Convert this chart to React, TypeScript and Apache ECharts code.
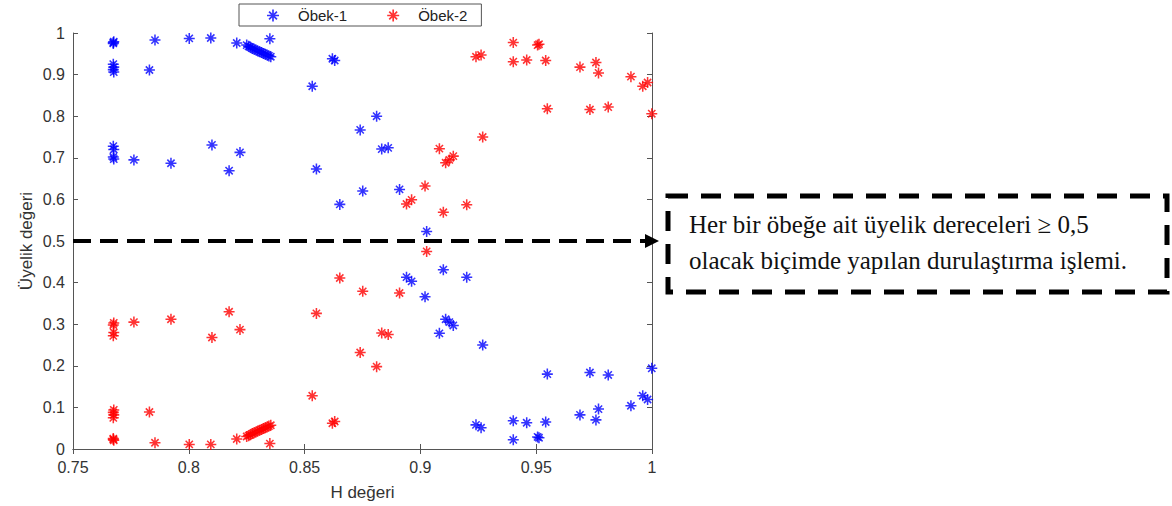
import React, { useEffect, useRef } from "react";
import * as echarts from "echarts";

// Öbek-1 (blue) points: [H değeri, üyelik değeri]
const obek1: [number, number][] = [
  [0.7674, 0.977], [0.7674, 0.975], [0.7676, 0.979],
  [0.7674, 0.925], [0.7676, 0.918], [0.7674, 0.912], [0.7676, 0.906],
  [0.7674, 0.728], [0.7676, 0.720], [0.7674, 0.702], [0.7676, 0.697],
  [0.7763, 0.695], [0.783, 0.911], [0.7854, 0.983], [0.7923, 0.687],
  [0.8002, 0.987], [0.8095, 0.988], [0.81, 0.731], [0.8174, 0.669],
  [0.8207, 0.976], [0.8221, 0.713],
  [0.825, 0.971], [0.8258, 0.968], [0.8266, 0.966], [0.8274, 0.963], [0.8282, 0.961],
  [0.829, 0.959], [0.8298, 0.957], [0.8306, 0.955], [0.8314, 0.953], [0.8322, 0.951],
  [0.833, 0.949], [0.8338, 0.947], [0.8346, 0.945], [0.8354, 0.943],
  [0.835, 0.986], [0.8533, 0.872], [0.8551, 0.673], [0.862, 0.938], [0.863, 0.934],
  [0.8652, 0.588], [0.874, 0.767], [0.8751, 0.62], [0.8811, 0.8], [0.8833, 0.721],
  [0.8861, 0.724], [0.891, 0.624], [0.894, 0.413], [0.8962, 0.403], [0.902, 0.366],
  [0.9027, 0.523], [0.9082, 0.278], [0.9099, 0.431], [0.9109, 0.312], [0.9125, 0.305],
  [0.9142, 0.297], [0.92, 0.413], [0.924, 0.058], [0.9262, 0.051], [0.9269, 0.25],
  [0.9401, 0.068], [0.9401, 0.022], [0.9459, 0.063], [0.9506, 0.029], [0.9512, 0.027],
  [0.9541, 0.065], [0.9548, 0.18], [0.9689, 0.082], [0.9732, 0.184], [0.9758, 0.07],
  [0.9769, 0.096], [0.9811, 0.178], [0.9909, 0.104], [0.996, 0.128], [0.9981, 0.119],
  [0.9999, 0.194],
];

// Öbek-2 (red) points
const obek2: [number, number][] = [
  [0.7674, 0.023], [0.7674, 0.025], [0.7676, 0.021],
  [0.7674, 0.075], [0.7676, 0.082], [0.7674, 0.088], [0.7676, 0.094],
  [0.7674, 0.272], [0.7676, 0.28], [0.7674, 0.298], [0.7676, 0.303],
  [0.7763, 0.305], [0.783, 0.089], [0.7854, 0.015], [0.7923, 0.312],
  [0.8002, 0.011], [0.8095, 0.011], [0.81, 0.268], [0.8174, 0.33],
  [0.8207, 0.024], [0.8221, 0.287],
  [0.825, 0.03], [0.8258, 0.032], [0.8266, 0.034], [0.8274, 0.037], [0.8282, 0.039],
  [0.829, 0.041], [0.8298, 0.043], [0.8306, 0.045], [0.8314, 0.047], [0.8322, 0.049],
  [0.833, 0.051], [0.8338, 0.053], [0.8346, 0.055], [0.8354, 0.057],
  [0.835, 0.013], [0.8533, 0.128], [0.8551, 0.326], [0.862, 0.062], [0.863, 0.066],
  [0.8652, 0.411], [0.874, 0.232], [0.8751, 0.379], [0.8811, 0.198], [0.8833, 0.279],
  [0.8861, 0.275], [0.891, 0.375], [0.894, 0.589], [0.8962, 0.599], [0.902, 0.632],
  [0.9027, 0.475], [0.9082, 0.722], [0.9099, 0.569], [0.9109, 0.688], [0.9125, 0.695],
  [0.9142, 0.704], [0.92, 0.587], [0.924, 0.943], [0.9262, 0.947], [0.9269, 0.75],
  [0.9401, 0.931], [0.9401, 0.977], [0.9459, 0.935], [0.9506, 0.971], [0.9512, 0.973],
  [0.9541, 0.934], [0.9548, 0.818], [0.9689, 0.918], [0.9732, 0.816], [0.9758, 0.929],
  [0.9769, 0.904], [0.9811, 0.822], [0.9909, 0.895], [0.996, 0.872], [0.9981, 0.881],
  [0.9999, 0.806],
];

const seriesNames = ["Öbek-1", "Öbek-2"];
const seriesColors = ["#0000ff", "#ff0000"];
const threshold = 0.5;
const xName = "H değeri";
const yName = "Üyelik değeri";
const noteLines = [
  "Her bir öbeğe ait üyelik dereceleri ≥ 0,5",
  "olacak biçimde yapılan durulaştırma işlemi.",
];

const STAR =
  "path://M0 8.6L20 8.6L20 11.4L0 11.4Z M8.6 0L11.4 0L11.4 20L8.6 20Z " +
  "M2.4 4.4L4.4 2.4L17.6 15.6L15.6 17.6Z M15.6 2.4L17.6 4.4L4.4 17.6L2.4 15.6Z";

const axisFont = "'Liberation Sans', Arial, sans-serif";

export default function App() {
  const ref = useRef<HTMLDivElement>(null);
  useEffect(() => {
    if (!ref.current) return;
    const chart = echarts.init(ref.current, null, { renderer: "svg" });
    const axisLine = { show: true, lineStyle: { color: "#555", width: 1 } };
    const axisTick = { show: true, inside: true, length: 5, lineStyle: { color: "#555" } };
    chart.setOption({
      animation: false,
      backgroundColor: "#fff",
      grid: { left: 73, top: 33, width: 579, height: 418, containLabel: false },
      legend: {
        left: 239,
        top: 4,
        orient: "horizontal",
        backgroundColor: "#fff",
        borderColor: "#555",
        borderWidth: 1,
        borderRadius: 0,
        padding: [4, 14, 3, 28],
        itemGap: 40,
        itemWidth: 12,
        itemHeight: 12,
        textStyle: { fontSize: 15, fontFamily: axisFont, color: "#222", padding: [0, 0, 0, 14] },
        data: seriesNames,
      },
      xAxis: [
        {
          type: "value",
          position: "bottom",
          min: 0.75,
          max: 1,
          interval: 0.05,
          axisLine,
          axisTick,
          splitLine: { show: false },
          axisLabel: { fontSize: 16, fontFamily: axisFont, color: "#333", margin: 10 },
          name: xName,
          nameLocation: "middle",
          nameGap: 35,
          nameTextStyle: { fontSize: 17, fontFamily: axisFont, color: "#333" },
        },
        {
          type: "value",
          position: "top",
          min: 0.75,
          max: 1,
          interval: 0.05,
          axisLine,
          axisTick,
          splitLine: { show: false },
          axisLabel: { show: false },
        },
      ],
      yAxis: [
        {
          type: "value",
          position: "left",
          min: 0,
          max: 1,
          interval: 0.1,
          axisLine,
          axisTick,
          splitLine: { show: false },
          axisLabel: { fontSize: 16, fontFamily: axisFont, color: "#333", margin: 8 },
          name: yName,
          nameLocation: "middle",
          nameGap: 38,
          nameTextStyle: { fontSize: 17, fontFamily: axisFont, color: "#333" },
        },
        {
          type: "value",
          position: "right",
          min: 0,
          max: 1,
          interval: 0.1,
          axisLine,
          axisTick,
          splitLine: { show: false },
          axisLabel: { show: false },
        },
      ],
      series: [
        {
          name: seriesNames[0],
          type: "scatter",
          symbol: STAR,
          symbolSize: 11,
          itemStyle: { color: seriesColors[0] },
          data: obek1,
          clip: false,
          markLine: {
            silent: true,
            symbol: ["none", "triangle"],
            symbolSize: [14, 14],
            label: { show: false },
            lineStyle: { color: "#000", width: 4, type: [18, 9] },
            data: [{ yAxis: threshold }],
          },
        },
        {
          name: seriesNames[1],
          type: "scatter",
          symbol: STAR,
          symbolSize: 11,
          itemStyle: { color: seriesColors[1] },
          data: obek2,
          clip: false,
        },
      ],
      graphic: [
        {
          type: "rect",
          shape: { x: 668, y: 196, width: 499, height: 96 },
          style: { fill: "#fff", stroke: "#000", lineWidth: 5, lineDash: [20, 13] },
        },
        {
          type: "text",
          x: 689,
          y: 206,
          style: {
            text: noteLines.join("\n"),
            font: "25px 'Liberation Serif', 'Times New Roman', serif",
            lineHeight: 36,
            fill: "#111",
          },
        },
      ],
    });
    return () => chart.dispose();
  }, []);
  return (
    <div
      ref={ref}
      style={{ position: "fixed", left: 0, top: 0, width: 1172, height: 506, background: "#fff" }}
    />
  );
}
